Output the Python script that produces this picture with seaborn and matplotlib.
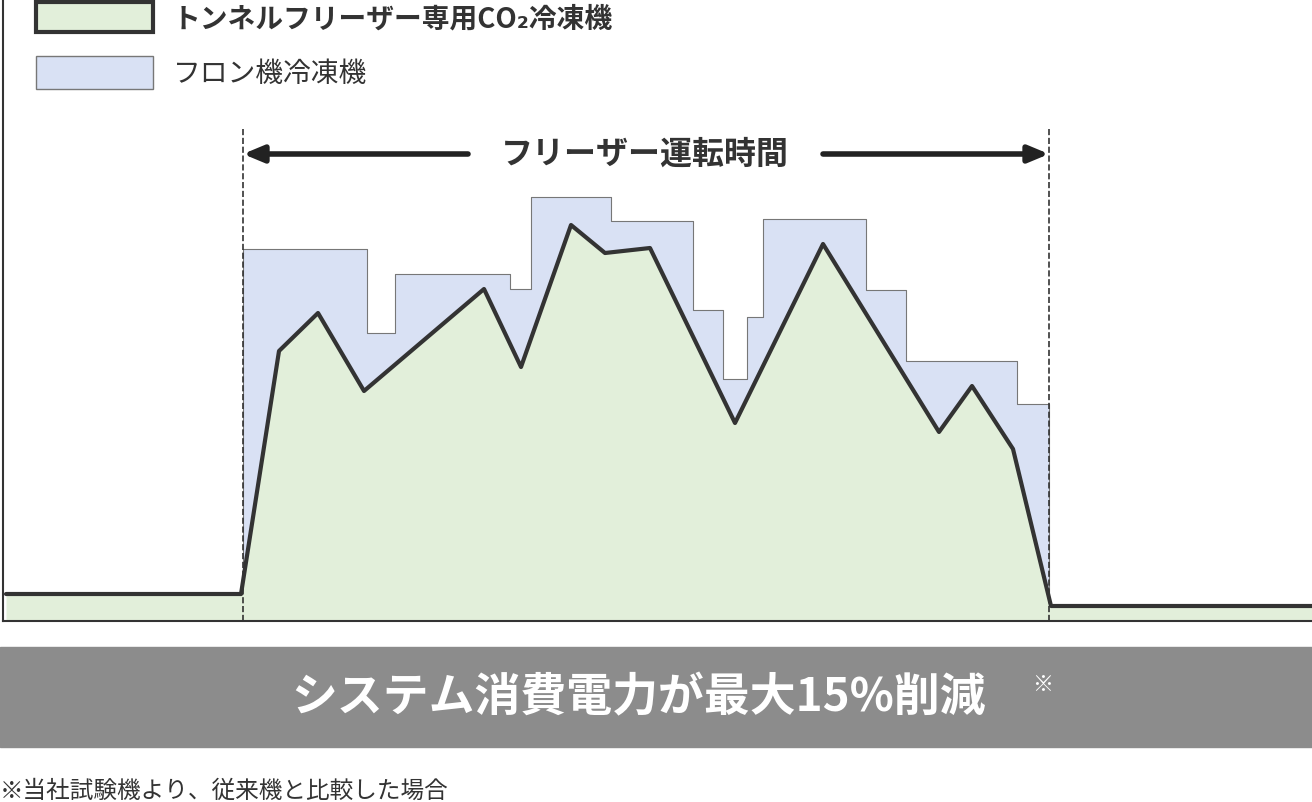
import matplotlib
matplotlib.use("Agg")
import matplotlib.pyplot as plt
import numpy as np
import pandas as pd
import seaborn as sns
from matplotlib.patches import Rectangle

sns.set_style("white")
plt.rcParams["font.family"] = ["Noto Sans CJK JP", "DejaVu Sans"]

# CO2 machine power curve (x in time units, y = power)
co2_x = [3, 238, 276, 315, 361, 481, 518, 568, 602, 647, 732, 820, 936, 969, 1010, 1048, 1312]
co2_y = [27, 27, 270, 308, 230, 332, 254, 396, 368, 373, 198, 377, 189, 235, 172, 15, 15]

# Freon machine step curve (edges and levels)
freon_edges = [240, 364, 392, 507, 528, 608, 690, 720, 744, 760, 863, 903, 1014, 1046]
freon_levels = [372, 288, 347, 332, 424, 400, 311, 242, 304, 402, 331, 260, 217, 217]

GREEN = "#e2efda"
BLUE = "#d9e1f4"
DARK = "#333333"

fig = plt.figure(figsize=(13.12, 8.03), dpi=100)
ax = fig.add_axes([0.0023, 181 / 803, 0.9977, 622 / 803])
ax.set_xlim(0, 1309)
ax.set_ylim(0, 622)

ax.fill_between(freon_edges, freon_levels, step="post", color=BLUE, edgecolor="#777777", lw=0.8, zorder=1)
ax.fill_between(co2_x, co2_y, color=GREEN, zorder=2, lw=0)
df = pd.DataFrame({"x": co2_x, "y": co2_y})
sns.lineplot(data=df, x="x", y="y", ax=ax, color=DARK, lw=3, sort=False, zorder=3)

for xv in [240, 1046]:
    ax.plot([xv, xv], [0, 494], ls="--", color=DARK, lw=1.2, zorder=4)
ax.annotate("", xy=(240, 467), xytext=(465, 467),
            arrowprops=dict(arrowstyle="-|>,head_length=1.2,head_width=0.5", color="#222222", lw=4, shrinkA=0, shrinkB=0))
ax.annotate("", xy=(1046, 467), xytext=(820, 467),
            arrowprops=dict(arrowstyle="-|>,head_length=1.2,head_width=0.5", color="#222222", lw=4, shrinkA=0, shrinkB=0))
ax.text(642, 467, "フリーザー運転時間", ha="center", va="center", fontsize=23, fontweight="bold", color=DARK)

# legend
ax.add_patch(Rectangle((33, 589), 117, 30, facecolor=GREEN, edgecolor=DARK, lw=3, zorder=5))
ax.add_patch(Rectangle((33, 532), 117, 33, facecolor=BLUE, edgecolor="#777777", lw=1, zorder=5))
ax.text(170, 603, "トンネルフリーザー専用CO₂冷凍機", ha="left", va="center", fontsize=20, fontweight="bold", color=DARK)
ax.text(170, 548, "フロン機冷凍機", ha="left", va="center", fontsize=20, color=DARK)

ax.set_xlabel("")
ax.set_ylabel("")
ax.set_xticks([])
ax.set_yticks([])
for s in ["top", "right"]:
    ax.spines[s].set_visible(False)
for s in ["left", "bottom"]:
    ax.spines[s].set_color(DARK)
    ax.spines[s].set_linewidth(1.5)

fig.patches.append(Rectangle((0, 55 / 803), 1, 100 / 803, transform=fig.transFigure, color="#8c8c8c", zorder=0))
fig.text(0.487, 105 / 803, "システム消費電力が最大15%削減", ha="center", va="center", fontsize=33, fontweight="bold", color="white")
fig.text(0.787, 118 / 803, "※", ha="left", va="center", fontsize=15, color="white")
fig.text(0.0, 12 / 803, "※当社試験機より、従来機と比較した場合", ha="left", va="center", fontsize=17, color=DARK)

fig.savefig("out.png", dpi=100)
